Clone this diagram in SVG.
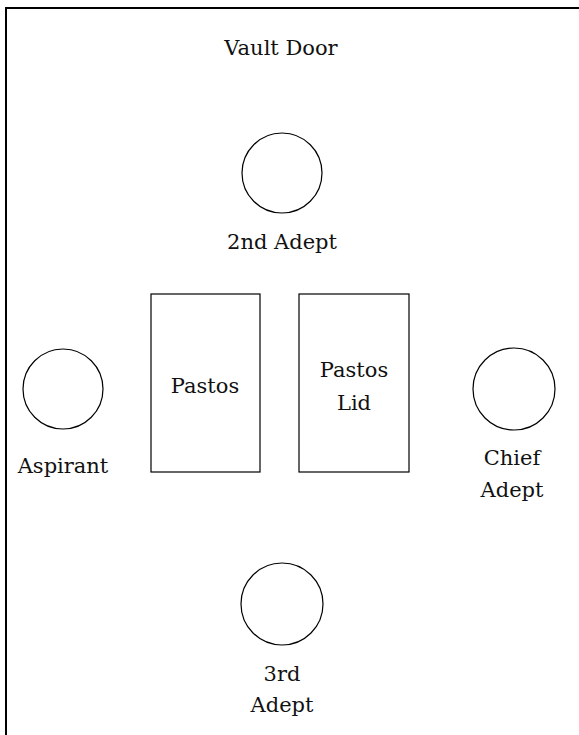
<svg xmlns="http://www.w3.org/2000/svg" width="579" height="735" viewBox="0 0 579 735">
<style>
.shape{fill:#fff;stroke:#000;stroke-width:1.2}
.lbl{font-family:'DejaVu Serif','Liberation Serif',serif;font-size:21px;fill:#111;text-anchor:middle}
</style>
<rect width="579" height="735" fill="#fff"/>
<path d="M6 760V8H600" fill="none" stroke="#000" stroke-width="2"/>
<g id="vault-door"><text class="lbl" x="281" y="55">Vault Door</text></g>
<g id="second-adept"><circle class="shape" cx="282" cy="173" r="40"/><text class="lbl" x="282" y="249">2nd Adept</text></g>
<g id="pastos"><rect class="shape" x="151" y="294" width="109" height="178"/><text class="lbl" x="205" y="393">Pastos</text></g>
<g id="pastos-lid"><rect class="shape" x="299" y="294" width="110" height="178"/><text class="lbl" x="354" y="377">Pastos</text><text class="lbl" x="354" y="410">Lid</text></g>
<g id="aspirant"><circle class="shape" cx="63" cy="389" r="40"/><text class="lbl" x="63" y="473">Aspirant</text></g>
<g id="chief-adept"><circle class="shape" cx="514" cy="389" r="41"/><text class="lbl" x="512" y="465">Chief</text><text class="lbl" x="512" y="497">Adept</text></g>
<g id="third-adept"><circle class="shape" cx="282" cy="604" r="41"/><text class="lbl" x="282" y="681">3rd</text><text class="lbl" x="282" y="712">Adept</text></g>
<g id="connectors"/>
</svg>
